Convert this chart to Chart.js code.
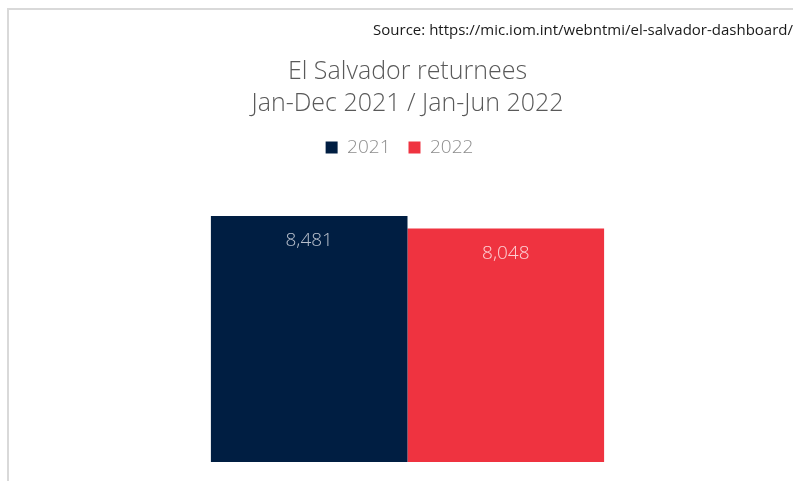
<!DOCTYPE html>
<html>
<head>
<meta charset="utf-8">
<script src="https://cdn.jsdelivr.net/npm/chart.js@4"></script>
<style>
  html, body { margin: 0; padding: 0; background: #fff; }
  #wrap { position: relative; width: 793px; height: 481px; }
  #frame { position: absolute; left: 7px; top: 8px; right: 0; bottom: 0;
           border-top: 2px solid #d9d9d9; border-left: 2px solid #d9d9d9; pointer-events: none; }
  canvas { position: absolute; left: 0; top: 0; }
</style>
</head>
<body>
<div id="wrap">
  <canvas id="c" width="793" height="481"></canvas>
  <div id="frame"></div>
</div>
<script>
const categories = ["El Salvador returnees"];
const seriesNames = ["2021", "2022"];
const values2021 = [8481];
const values2022 = [8048];
const seriesColors = ["#001E42", "#EF3340"];

const valueLabels = {
  id: 'valueLabels',
  afterDatasetsDraw(chart) {
    const ctx = chart.ctx;
    ctx.save();
    ctx.font = '300 19px "Open Sans", sans-serif';
    ctx.textAlign = 'center';
    ctx.textBaseline = 'middle';
    chart.data.datasets.forEach((ds, i) => {
      chart.getDatasetMeta(i).data.forEach((bar, j) => {
        const v = ds.data[j];
        ctx.fillStyle = i === 0 ? 'rgba(215,220,228,0.85)' : 'rgba(255,235,237,0.85)';
        ctx.fillText(v.toLocaleString('en-US'), bar.x, bar.y + 25);
      });
    });
    ctx.restore();
  }
};

const legendTweak = {
  id: 'legendTweak',
  afterInit(chart) {
    const lg = chart.legend;
    if (lg) {
      const origFit = lg.fit;
      lg.fit = function () { origFit.call(this); this.height += 5; };
    }
  },
  afterLayout(chart) {
    chart.legend.left -= 8;
    chart.legend.right -= 8;
  }
};

new Chart(document.getElementById('c'), {
  type: 'bar',
  data: {
    labels: categories,
    datasets: [
      { label: seriesNames[0], data: values2021, backgroundColor: seriesColors[0],
        categoryPercentage: 0.51, barPercentage: 1.0 },
      { label: seriesNames[1], data: values2022, backgroundColor: seriesColors[1],
        categoryPercentage: 0.51, barPercentage: 1.0 }
    ]
  },
  options: {
    responsive: false,
    animation: false,
    layout: { padding: { left: 22, right: 0, top: 22, bottom: 19 } },
    scales: {
      x: { display: false },
      y: { display: false, min: 0, max: 10000 }
    },
    plugins: {
      subtitle: {
        display: true,
        position: 'top',
        align: 'end',
        weight: 3000,
        text: 'Source: https://mic.iom.int/webntmi/el-salvador-dashboard/',
        color: '#1a1a1a',
        font: { family: '"Open Sans", sans-serif', size: 15 },
        padding: { top: 0, bottom: 16 }
      },
      title: {
        display: true,
        text: ['El Salvador returnees', 'Jan-Dec 2021 / Jan-Jun 2022'],
        color: '#595959',
        font: { family: '"Open Sans", sans-serif', size: 25, weight: '300', lineHeight: 1.28 },
        padding: { top: 0, bottom: 0 }
      },
      legend: {
        display: true,
        position: 'top',
        labels: {
          boxWidth: 12, boxHeight: 12, padding: 18,
          color: '#8c8c8c',
          font: { family: '"Open Sans", sans-serif', size: 19, weight: '300' }
        }
      },
      tooltip: { enabled: false }
    }
  },
  plugins: [valueLabels, legendTweak]
});
</script>
</body>
</html>
